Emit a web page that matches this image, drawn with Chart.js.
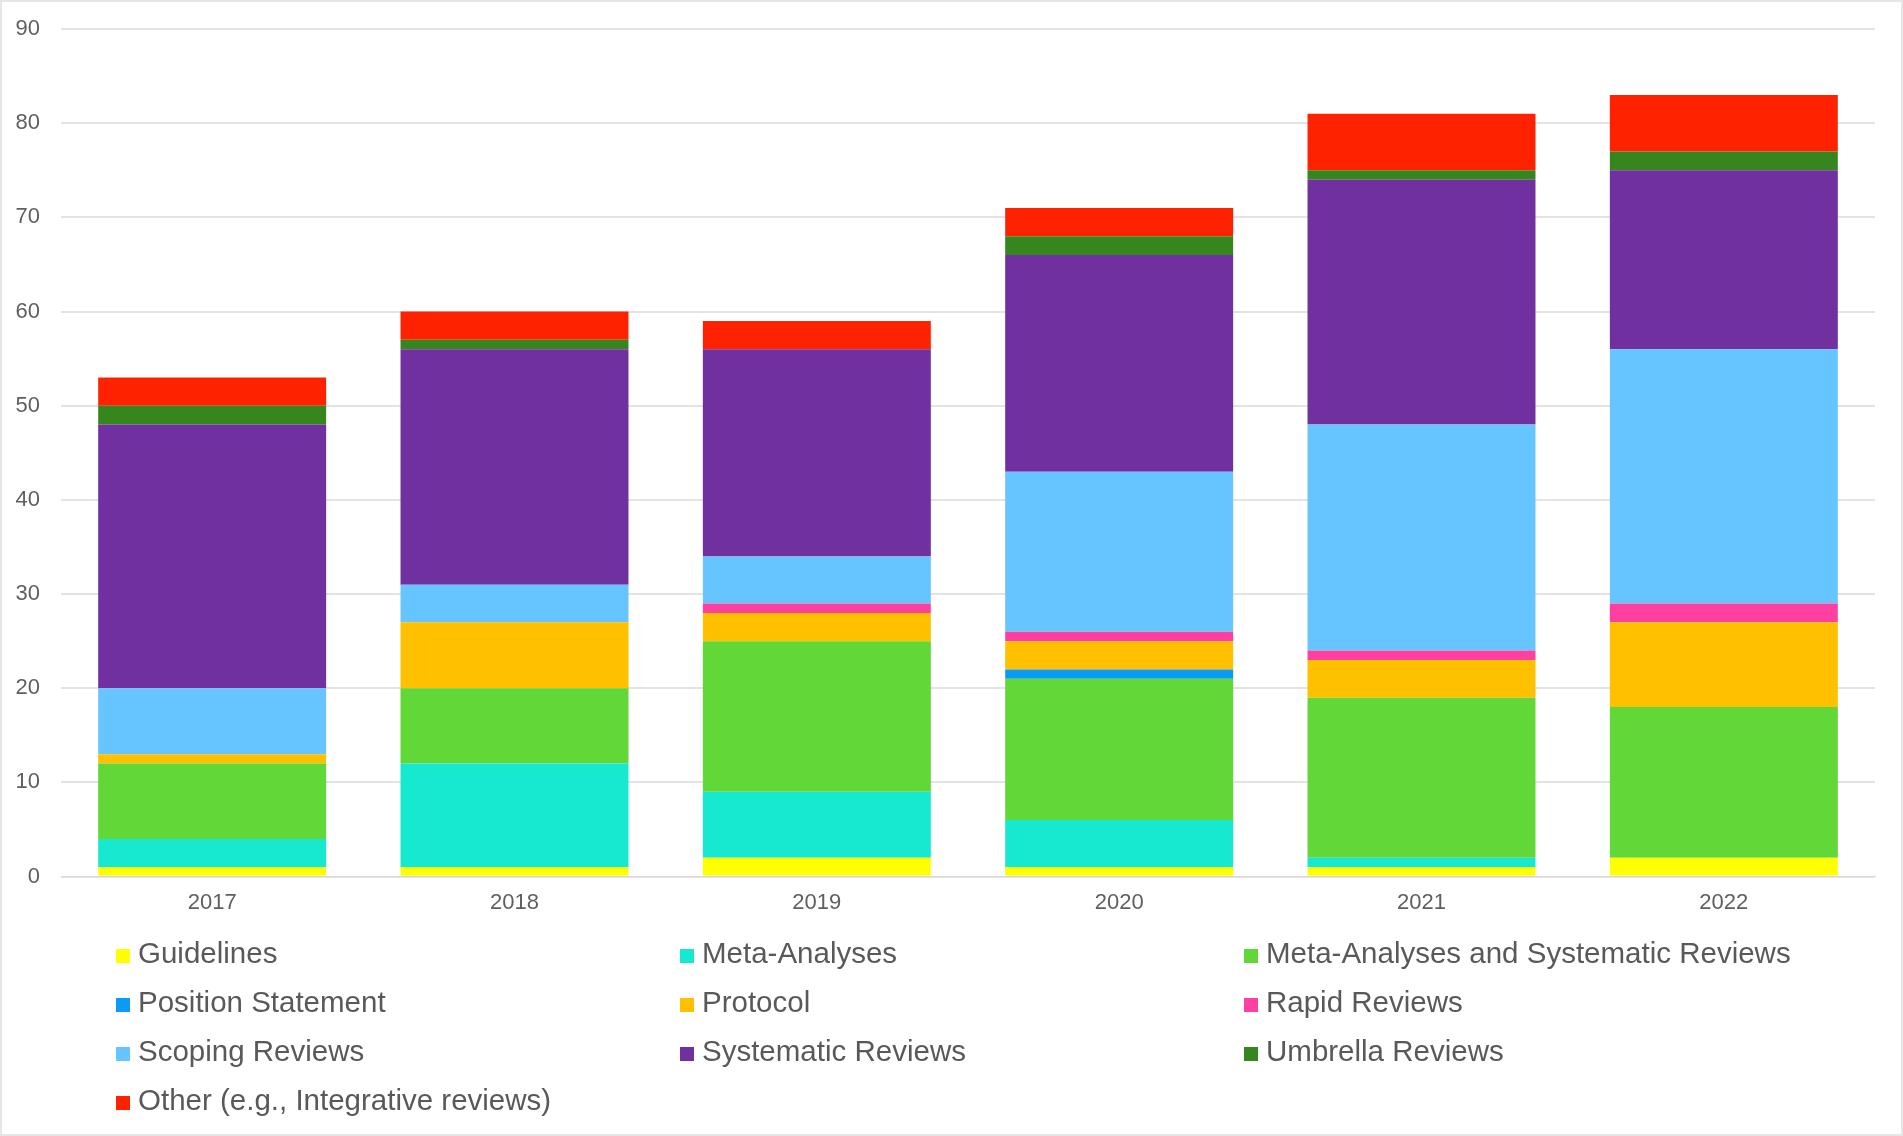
<!DOCTYPE html>
<html>
<head>
<meta charset="utf-8">
<script src="https://cdn.jsdelivr.net/npm/chart.js@4"></script>
<style>
    html, body {
        margin: 0;
        padding: 0;
        background: #fff;
    }
    .frame {
        position: absolute;
        left: 0;
        top: 0;
        width: 1899px;
        height: 1132px;
        border: 2px solid #e6e6e6;
    }
    .chart-box {
        position: absolute;
        left: 0;
        top: 0;
        width: 1903px;
        height: 929px;
    }
    #legend {
        position: absolute;
        left: 116px;
        top: 928px;
        display: grid;
        grid-template-columns: 564px 564px auto;
        grid-auto-rows: 49px;
        font-family: "Liberation Sans", Arial, sans-serif;
        font-size: 29.5px;
        color: #595959;
    }
    #legend .item {
        display: flex;
        align-items: center;
        white-space: nowrap;
    }
    #legend .swatch {
        width: 14px;
        height: 14px;
        margin-right: 8px;
        margin-top: 6px;
    }
</style>
</head>
<body>
<div class="frame"></div>
<div class="chart-box"><canvas id="chart"></canvas></div>
<div id="legend"></div>
<script>
(function () {
    "use strict";

    const years = ["2017", "2018", "2019", "2020", "2021", "2022"];

    const guidelines = [1, 1, 2, 1, 1, 2];
    const metaAnalyses = [3, 11, 7, 5, 1, 0];
    const metaAndSystematic = [8, 8, 16, 15, 17, 16];
    const positionStatement = [0, 0, 0, 1, 0, 0];
    const protocol = [1, 7, 3, 3, 4, 9];
    const rapidReviews = [0, 0, 1, 1, 1, 2];
    const scopingReviews = [7, 4, 5, 17, 24, 27];
    const systematicReviews = [28, 25, 22, 23, 26, 19];
    const umbrellaReviews = [2, 1, 0, 2, 1, 2];
    const other = [3, 3, 3, 3, 6, 6];

    const yTicks = [0, 10, 20, 30, 40, 50, 60, 70, 80, 90];

    const series = [
        ["Guidelines", guidelines, "#ffff00"],
        ["Meta-Analyses", metaAnalyses, "#17e8d0"],
        ["Meta-Analyses and Systematic Reviews", metaAndSystematic, "#62d838"],
        ["Position Statement", positionStatement, "#0a9cf5"],
        ["Protocol", protocol, "#ffc000"],
        ["Rapid Reviews", rapidReviews, "#ff40a0"],
        ["Scoping Reviews", scopingReviews, "#66c5ff"],
        ["Systematic Reviews", systematicReviews, "#7030a0"],
        ["Umbrella Reviews", umbrellaReviews, "#37861d"],
        ["Other (e.g., Integrative reviews)", other, "#ff2200"],
    ];

    const tickFont = {
        family: "'Liberation Sans', Arial, sans-serif",
        size: 22,
    };

    const chart = new Chart(document.getElementById("chart"), {
        type: "bar",
        data: {
            labels: years,
            datasets: series.map(([label, data, color]) => ({
                label: label,
                data: data,
                backgroundColor: color,
                borderWidth: 0,
                barPercentage: 0.754,
                categoryPercentage: 1,
            })),
        },
        options: {
            responsive: true,
            maintainAspectRatio: false,
            animation: false,
            layout: {
                padding: { top: 29, right: 28, bottom: 8, left: 0 },
            },
            plugins: {
                legend: { display: false },
                tooltip: { enabled: false },
            },
            scales: {
                x: {
                    stacked: true,
                    grid: { display: false },
                    border: { display: true, color: "#d9d9d9" },
                    ticks: {
                        color: "#5f5f5f",
                        font: tickFont,
                        padding: 5,
                    },
                },
                y: {
                    stacked: true,
                    min: 0,
                    max: 90,
                    afterBuildTicks: (axis) => {
                        axis.ticks = yTicks.map((v) => ({ value: v }));
                    },
                    afterFit: (axis) => {
                        axis.width = 61;
                        // let layout padding decide the top edge
                        axis.paddingTop = 0;
                        axis.paddingBottom = 0;
                    },
                    grid: {
                        color: "#e3e3e3",
                        lineWidth: 2,
                        drawTicks: false,
                    },
                    border: { display: false },
                    ticks: {
                        color: "#5f5f5f",
                        font: tickFont,
                        padding: 21,
                    },
                },
            },
        },
    });

    // Legend in three columns, built from the chart's datasets
    const legend = document.getElementById("legend");
    chart.data.datasets.forEach((ds) => {
        const item = document.createElement("div");
        item.className = "item";
        const swatch = document.createElement("span");
        swatch.className = "swatch";
        swatch.style.background = ds.backgroundColor;
        const text = document.createElement("span");
        text.textContent = ds.label;
        item.appendChild(swatch);
        item.appendChild(text);
        legend.appendChild(item);
    });
})();
</script>
</body>
</html>
